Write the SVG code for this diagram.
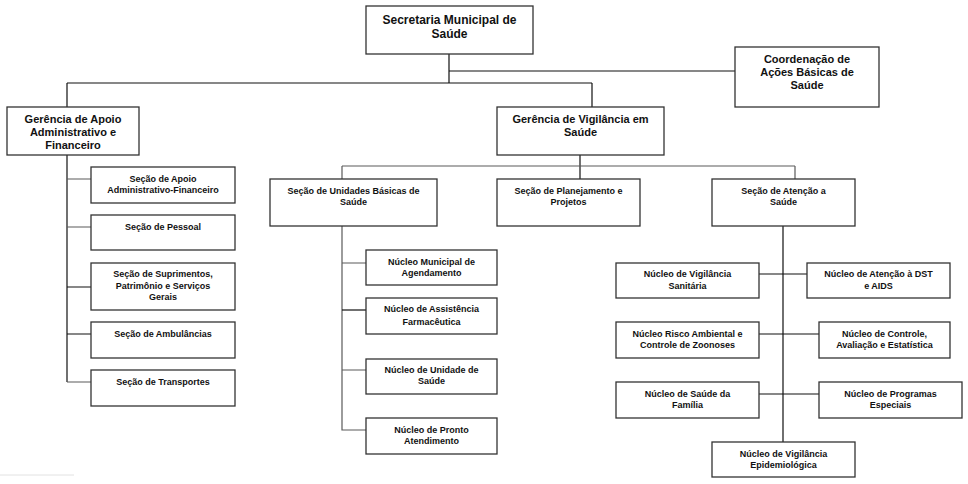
<svg xmlns="http://www.w3.org/2000/svg" width="968" height="484" viewBox="0 0 968 484">
<style>
.box{fill:#fff;stroke:#333;stroke-width:1.3}
.ln{stroke:#111;stroke-width:1.2;fill:none}
.lg{stroke:#5a5a5a;stroke-width:1.2;fill:none}
text{font-family:"Liberation Sans",Arial,sans-serif;font-weight:bold;fill:#111;text-anchor:middle}
.t1{font-size:12px}
.t2{font-size:11px}
.t3{font-size:9px}
</style>
<rect width="968" height="484" fill="#fff"/>
<g id="connectors">
<path class="ln" d="M449,54V83M449,71H735M67,83H592M67,83V107M592,83V107"/>
<path class="ln" d="M580,155V179"/>
<path class="lg" d="M342,166H795M342,166V179M795,166V179"/>
<path class="ln" d="M67,155V382"/>
<path class="lg" d="M67,179H91M67,227H91M67,382H91"/>
<path class="ln" d="M67,287H91M67,334H91"/>
<path class="lg" d="M342,226V430H366M342,263H366M342,370H366"/>
<path class="ln" d="M342,310H366"/>
<path class="ln" d="M783,226V442M759,274H807M759,334H819M759,394H819"/>
<path d="M0,475H74" stroke="#e2e2e2" stroke-width="1"/>
</g>
<g id="secretaria"><rect class="box" x="366" y="6" width="167" height="48"/><text class="t1" x="449.5" y="24">Secretaria Municipal de</text><text class="t1" x="449.5" y="38">Saúde</text></g>
<g id="coordenacao"><rect class="box" x="735" y="47" width="144" height="60"/><text class="t2" x="807" y="63">Coordenação de</text><text class="t2" x="807" y="76">Ações Básicas de</text><text class="t2" x="807" y="89">Saúde</text></g>
<g id="ger-apoio"><rect class="box" x="7" y="107" width="132" height="48"/><text class="t2" x="73" y="123">Gerência de Apoio</text><text class="t2" x="73" y="136">Administrativo e</text><text class="t2" x="73" y="149">Financeiro</text></g>
<g id="ger-vigilancia"><rect class="box" x="497" y="107" width="167" height="48"/><text class="t2" x="580.5" y="123">Gerência de Vigilância em</text><text class="t2" x="580.5" y="136">Saúde</text></g>
<g id="sec-apoio"><rect class="box" x="91" y="167" width="144" height="36"/><text class="t3" x="163" y="182">Seção de Apoio</text><text class="t3" x="163" y="193">Administrativo-Financeiro</text></g>
<g id="sec-pessoal"><rect class="box" x="91" y="215" width="144" height="35"/><text class="t3" x="163" y="230">Seção de Pessoal</text></g>
<g id="sec-suprimentos"><rect class="box" x="91" y="263" width="144" height="47"/><text class="t3" x="163" y="277">Seção de Suprimentos,</text><text class="t3" x="163" y="289">Patrimônio e Serviços</text><text class="t3" x="163" y="300">Gerais</text></g>
<g id="sec-ambulancias"><rect class="box" x="91" y="322" width="144" height="36"/><text class="t3" x="163" y="337">Seção de Ambulâncias</text></g>
<g id="sec-transportes"><rect class="box" x="91" y="370" width="144" height="36"/><text class="t3" x="163" y="385">Seção de Transportes</text></g>
<g id="sec-ubs"><rect class="box" x="270" y="179" width="167" height="47"/><text class="t3" x="353.5" y="194">Seção de Unidades Básicas de</text><text class="t3" x="353.5" y="205">Saúde</text></g>
<g id="sec-planejamento"><rect class="box" x="497" y="179" width="143" height="47"/><text class="t3" x="568.5" y="194">Seção de Planejamento e</text><text class="t3" x="568.5" y="205">Projetos</text></g>
<g id="sec-atencao"><rect class="box" x="712" y="179" width="143" height="47"/><text class="t3" x="783.5" y="194">Seção de Atenção a</text><text class="t3" x="783.5" y="205">Saúde</text></g>
<g id="nuc-agendamento"><rect class="box" x="366" y="250" width="131" height="35"/><text class="t3" x="431.5" y="265">Núcleo Municipal de</text><text class="t3" x="431.5" y="276">Agendamento</text></g>
<g id="nuc-farmaceutica"><rect class="box" x="366" y="298" width="131" height="36"/><text class="t3" x="431.5" y="312">Núcleo de Assistência</text><text class="t3" x="431.5" y="325">Farmacêutica</text></g>
<g id="nuc-unidade"><rect class="box" x="366" y="359" width="131" height="35"/><text class="t3" x="431.5" y="373">Núcleo de Unidade de</text><text class="t3" x="431.5" y="384">Saúde</text></g>
<g id="nuc-pronto"><rect class="box" x="366" y="418" width="131" height="36"/><text class="t3" x="431.5" y="433">Núcleo de Pronto</text><text class="t3" x="431.5" y="444">Atendimento</text></g>
<g id="nuc-vig-sanitaria"><rect class="box" x="616" y="263" width="143" height="35"/><text class="t3" x="687.5" y="277">Núcleo de Vigilância</text><text class="t3" x="687.5" y="289">Sanitária</text></g>
<g id="nuc-dst"><rect class="box" x="807" y="263" width="143" height="35"/><text class="t3" x="878.5" y="277">Núcleo de Atenção à DST</text><text class="t3" x="878.5" y="289">e AIDS</text></g>
<g id="nuc-risco"><rect class="box" x="616" y="322" width="143" height="36"/><text class="t3" x="687.5" y="337">Núcleo Risco Ambiental e</text><text class="t3" x="687.5" y="348">Controle de Zoonoses</text></g>
<g id="nuc-controle"><rect class="box" x="819" y="322" width="131" height="36"/><text class="t3" x="884.5" y="337">Núcleo de Controle,</text><text class="t3" x="884.5" y="348">Avaliação e Estatística</text></g>
<g id="nuc-familia"><rect class="box" x="616" y="382" width="143" height="36"/><text class="t3" x="687.5" y="397">Núcleo de Saúde da</text><text class="t3" x="687.5" y="408">Família</text></g>
<g id="nuc-programas"><rect class="box" x="819" y="382" width="143" height="36"/><text class="t3" x="890.5" y="397">Núcleo de Programas</text><text class="t3" x="890.5" y="408">Especiais</text></g>
<g id="nuc-epidemiologica"><rect class="box" x="712" y="442" width="143" height="35"/><text class="t3" x="783.5" y="457">Núcleo de Vigilância</text><text class="t3" x="783.5" y="468">Epidemiológica</text></g>
</svg>
